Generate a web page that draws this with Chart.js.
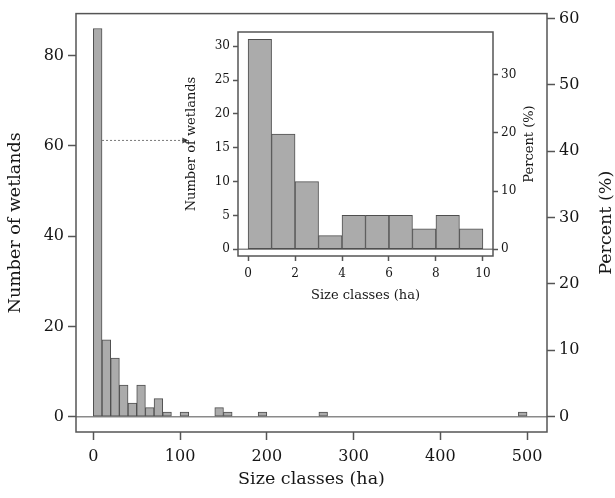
<!DOCTYPE html>
<html>
<head>
<meta charset="utf-8">
<script src="https://cdn.jsdelivr.net/npm/chart.js@4.4.1/dist/chart.umd.min.js"></script>
<style>
  html, body { margin: 0; padding: 0; background: #fff; }
  #wrap { position: relative; width: 615px; height: 498px; }
  #main { position: absolute; left: 0; top: 0; }
  #inset { position: absolute; left: 180px; top: 20px; }
</style>
</head>
<body>
<div id="wrap">
  <canvas id="main" width="615" height="498"></canvas>
  <canvas id="inset" width="360" height="290"></canvas>
</div>
<script>
// main histogram, 10 ha classes (lower edge of each class) and wetland counts
const binStarts = [0, 10, 20, 30, 40, 50, 60, 70, 80, 100, 140, 150, 190, 260, 490];
const binCounts = [86, 17, 13, 7, 3, 7, 2, 4, 1, 1, 2, 1, 1, 1, 1];
const countTicks = [0, 20, 40, 60, 80];
const percentTicks = [0, 10, 20, 30, 40, 50, 60];
const sizeTicks = [0, 100, 200, 300, 400, 500];

// inset, 1 ha classes for the wetlands under 10 ha
const insetStarts = [0, 1, 2, 3, 4, 5, 6, 7, 8, 9];
const insetCounts = [31, 17, 10, 2, 5, 5, 5, 3, 5, 3];
const insetCountTicks = [0, 5, 10, 15, 20, 25, 30];
const insetPercentTicks = [0, 10, 20, 30];
const insetSizeTicks = [0, 2, 4, 6, 8, 10];

const FONT = 'DejaVu Serif';
const INK = '#161616';
const AXIS = '#555';

// frame box, zero line, right-hand title (bottom-to-top) and the pointer arrow
const framePlugin = {
  id: 'frame',
  beforeDatasetsDraw(chart) {
    const { ctx, chartArea: a, scales } = chart;
    const y0 = scales.y.getPixelForValue(0);
    ctx.save();
    ctx.strokeStyle = '#8a8a8a';
    ctx.lineWidth = 1.5;
    ctx.beginPath();
    ctx.moveTo(a.left, y0);
    ctx.lineTo(a.right, y0);
    ctx.stroke();
    ctx.restore();
  },
  afterDraw(chart, args, opts) {
    const { ctx, chartArea: a, scales } = chart;
    ctx.save();
    ctx.strokeStyle = AXIS;
    ctx.lineWidth = 1.5;
    ctx.strokeRect(a.left, a.top, a.right - a.left, a.bottom - a.top);

    ctx.fillStyle = INK;
    ctx.font = opts.font;
    ctx.textAlign = 'center';
    ctx.textBaseline = 'middle';
    ctx.translate(opts.titleX, (a.top + a.bottom) / 2);
    ctx.rotate(-Math.PI / 2);
    ctx.fillText(opts.rightTitle, 0, 0);
    ctx.restore();

    if (opts.arrow) {
      const x1 = scales.x.getPixelForValue(opts.arrow.from);
      const x2 = scales.x.getPixelForValue(opts.arrow.to);
      const y = scales.y.getPixelForValue(opts.arrow.y);
      ctx.save();
      ctx.strokeStyle = '#777';
      ctx.fillStyle = '#444';
      ctx.lineWidth = 1;
      ctx.setLineDash([2, 2]);
      ctx.beginPath();
      ctx.moveTo(x1, y);
      ctx.lineTo(x2 - 4, y);
      ctx.stroke();
      ctx.setLineDash([]);
      ctx.beginPath();
      ctx.moveTo(x2, y);
      ctx.lineTo(x2 - 6, y - 3);
      ctx.lineTo(x2 - 6, y + 3);
      ctx.closePath();
      ctx.fill();
      ctx.restore();
    }
  },
};

function setTicks(values) {
  return (scale) => { scale.ticks = values.map((v) => ({ value: v })); };
}

function histogram(canvas, cfg) {
  const total = cfg.counts.reduce((s, c) => s + c, 0);
  const tickFont = { family: FONT, size: cfg.tickSize };
  const titleFont = { family: FONT, size: cfg.titleSize };

  return new Chart(canvas, {
    type: 'bar',
    data: {
      datasets: [{
        data: cfg.starts.map((s, i) => ({ x: s + cfg.width / 2, y: cfg.counts[i] })),
        backgroundColor: '#ababab',
        borderColor: '#4f4f4f',
        borderWidth: 1,
        borderSkipped: false,
        barPercentage: 1,
        categoryPercentage: 1,
      }],
    },
    options: {
      responsive: false,
      animation: false,
      layout: { padding: { top: cfg.area.top, left: 0, right: 0, bottom: 0 } },
      plugins: {
        legend: { display: false },
        tooltip: { enabled: false },
        frame: cfg.frame,
      },
      scales: {
        x: {
          type: 'linear',
          offset: false,
          min: cfg.xMin,
          max: cfg.xMax,
          afterBuildTicks: setTicks(cfg.xTicks),
          afterFit: (s) => { s.height = cfg.area.bottom; },
          grid: { offset: false, drawOnChartArea: false, tickLength: cfg.tickLen, tickColor: AXIS, tickWidth: 1.5 },
          border: { display: false },
          ticks: { font: tickFont, color: INK, padding: cfg.xPad, maxRotation: 0 },
          title: { display: true, text: 'Size classes (ha)', font: titleFont, color: INK, padding: { top: 0, bottom: cfg.xTitlePad } },
        },
        y: {
          position: 'left',
          min: cfg.yMin,
          max: cfg.yMax,
          afterBuildTicks: setTicks(cfg.yTicks),
          afterFit: (s) => { s.width = cfg.area.left; },
          grid: { drawOnChartArea: false, tickLength: cfg.tickLen, tickColor: AXIS, tickWidth: 1.5 },
          border: { display: false },
          ticks: { font: tickFont, color: INK, padding: cfg.yPad },
          title: { display: true, text: 'Number of wetlands', font: titleFont, color: INK, padding: { top: cfg.yTitlePad, bottom: 0 } },
        },
        y2: {
          position: 'right',
          min: (cfg.yMin * 100) / total,
          max: (cfg.yMax * 100) / total,
          afterBuildTicks: setTicks(cfg.pTicks),
          afterFit: (s) => { s.width = cfg.area.right; },
          grid: { drawOnChartArea: false, tickLength: cfg.tickLen, tickColor: AXIS, tickWidth: 1.5 },
          border: { display: false },
          ticks: { font: tickFont, color: INK, padding: cfg.yPad },
        },
      },
    },
    plugins: [framePlugin],
  });
}

histogram(document.getElementById('main'), {
  starts: binStarts, counts: binCounts, width: 10,
  xMin: -20, xMax: 523, yMin: -3.4, yMax: 89.3,
  xTicks: sizeTicks, yTicks: countTicks, pTicks: percentTicks,
  area: { left: 76, right: 68, top: 12, bottom: 66 },
  tickSize: 16, titleSize: 17.5, tickLen: 8,
  xPad: 7, yPad: 4, xTitlePad: 8, yTitlePad: 5,
  frame: {
    rightTitle: 'Percent (%)', titleX: 606, font: '17.5px "DejaVu Serif"',
    arrow: { from: 10, to: 109.5, y: 61.2 },
  },
});

histogram(document.getElementById('inset'), {
  starts: insetStarts, counts: insetCounts, width: 1,
  xMin: -0.43, xMax: 10.43, yMin: -1, yMax: 32.1,
  xTicks: insetSizeTicks, yTicks: insetCountTicks, pTicks: insetPercentTicks,
  area: { left: 58, right: 47, top: 12, bottom: 54 },
  tickSize: 12, titleSize: 13, tickLen: 5,
  xPad: 6, yPad: 3, xTitlePad: 7, yTitlePad: 4,
  frame: { rightTitle: 'Percent (%)', titleX: 350, font: '13px "DejaVu Serif"' },
});
</script>
</body>
</html>
